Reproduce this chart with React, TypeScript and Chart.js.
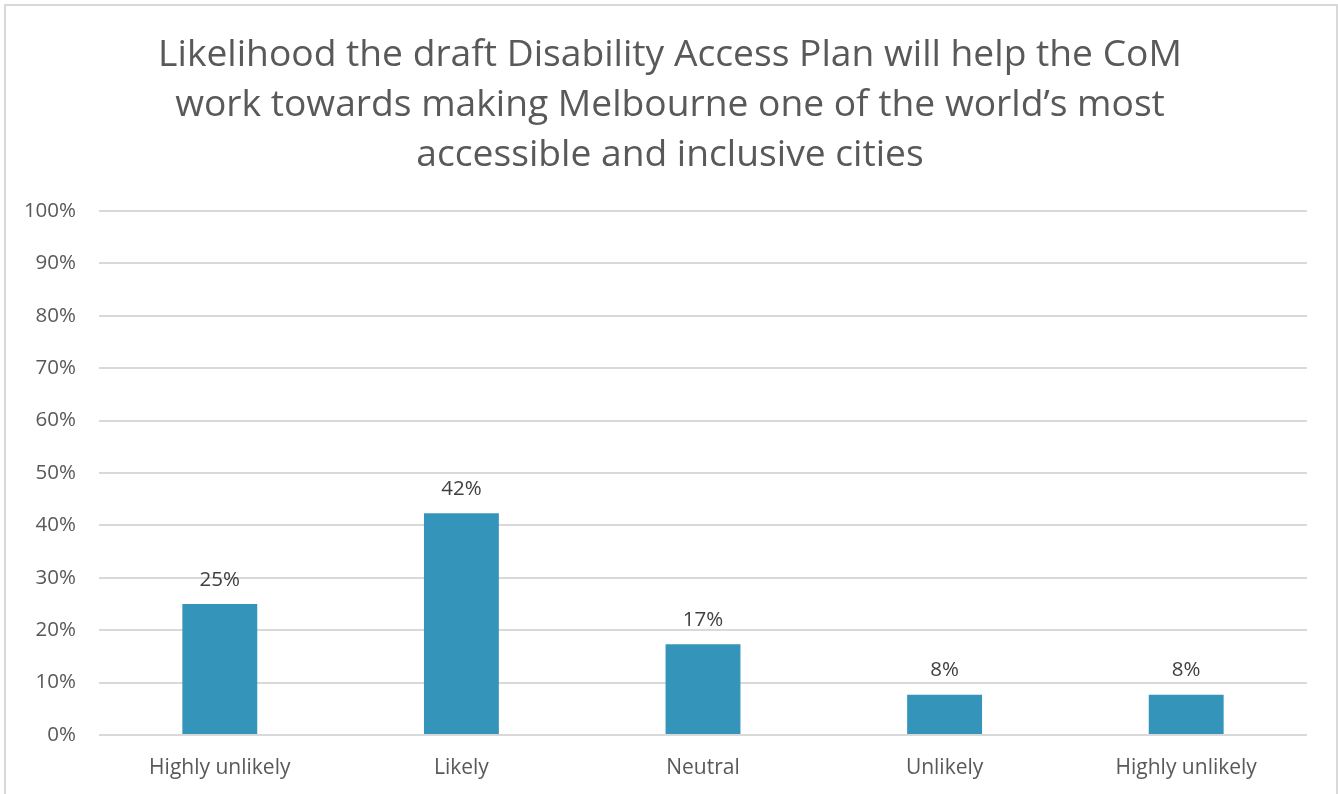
import React, { useEffect, useRef } from "react";
import { Chart, registerables } from "chart.js";

Chart.register(...registerables);

const titleLines = [
  "Likelihood the draft Disability Access Plan will help the CoM",
  "work towards making Melbourne one of the world\u2019s most",
  "accessible and inclusive cities",
];
const categories = ["Highly unlikely", "Likely", "Neutral", "Unlikely", "Highly unlikely"];
const values = [25, 42.3, 17.3, 7.7, 7.7];
const yTicks = [0, 10, 20, 30, 40, 50, 60, 70, 80, 90, 100];

const FONT = "'Open Sans', 'Segoe UI', sans-serif";
const TEXT = "#595959";
const BAR = "#3494BA";

const titlePlugin = {
  id: "customTitle",
  afterDraw(chart: any) {
    const ctx = chart.ctx;
    ctx.save();
    ctx.font = `37.2px ${FONT}`;
    ctx.fillStyle = TEXT;
    ctx.textAlign = "center";
    ctx.textBaseline = "middle";
    titleLines.forEach((line, i) => {
      ctx.fillText(line, 670, 55 + i * 50);
    });
    ctx.restore();
  },
};

const labelPlugin = {
  id: "barLabels",
  afterDatasetsDraw(chart: any) {
    const ctx = chart.ctx;
    const meta = chart.getDatasetMeta(0);
    ctx.save();
    ctx.font = `20.5px ${FONT}`;
    ctx.fillStyle = "#404040";
    ctx.textAlign = "center";
    ctx.textBaseline = "middle";
    meta.data.forEach((bar: any, i: number) => {
      ctx.fillText(Math.round(values[i]) + "%", bar.x, bar.y - 24);
    });
    ctx.restore();
  },
};

export default function App() {
  const ref = useRef<HTMLCanvasElement>(null);
  useEffect(() => {
    if (!ref.current) return;
    const chart = new Chart(ref.current, {
      type: "bar",
      data: {
        labels: categories,
        datasets: [
          {
            data: values,
            backgroundColor: BAR,
            borderWidth: 0,
            categoryPercentage: 1,
            barPercentage: 0.31,
          },
        ],
      },
      options: {
        animation: false,
        responsive: false,
        maintainAspectRatio: false,
        layout: { padding: { top: 211, right: 31, bottom: 0, left: 0 } },
        plugins: {
          legend: { display: false },
          title: { display: false },
          tooltip: { enabled: false },
        },
        scales: {
          x: {
            grid: { display: false, drawTicks: false },
            border: { display: false },
            ticks: { color: TEXT, font: { family: FONT, size: 21 }, padding: 20 },
            afterFit: (s: any) => {
              s.height = 59;
            },
          },
          y: {
            min: 0,
            max: 100,
            afterBuildTicks: (s: any) => {
              s.ticks = yTicks.map((v) => ({ value: v }));
            },
            grid: { color: "#d9d9d9", lineWidth: 2, drawTicks: false },
            border: { display: false },
            ticks: {
              color: TEXT,
              font: { family: FONT, size: 20.5 },
              padding: 23,
              callback: (v: any) => v + "%",
            },
            afterFit: (s: any) => {
              s.width = 99;
            },
          },
        },
      },
      plugins: [titlePlugin, labelPlugin],
    });
    return () => chart.destroy();
  }, []);

  return (
    <div
      style={{
        position: "fixed",
        left: 0,
        top: 0,
        width: 1338,
        height: 794,
        overflow: "hidden",
        background: "#fff",
      }}
    >
      <div
        style={{
          position: "absolute",
          left: 4,
          top: 4,
          width: 1330,
          height: 900,
          border: "2px solid #d9d9d9",
        }}
      />
      <canvas
        ref={ref}
        width={1338}
        height={794}
        style={{ position: "absolute", left: 0, top: 0 }}
      />
    </div>
  );
}
